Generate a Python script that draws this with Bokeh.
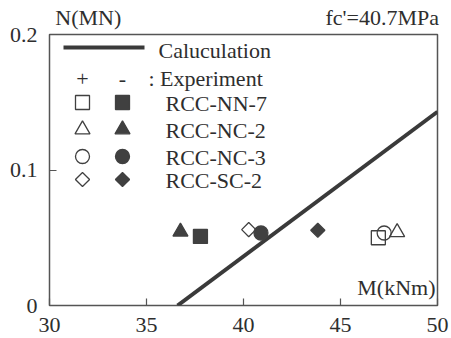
import math
from bokeh.plotting import figure
from bokeh.models import FixedTicker, Label, Range1d, LinearAxis
from bokeh.core.properties import value
from bokeh.embed import file_html
from bokeh.resources import INLINE

# ---- data ----
x_ticks = [30, 35, 40, 45, 50]
y_ticks = [0, 0.1, 0.2]
y_tick_labels = ["0", "0.1", "0.2"]

calc_M = [36.6, 50.0]
calc_N = [0.0, 0.143]

specimens = ["RCC-NN-7", "RCC-NC-2", "RCC-NC-3", "RCC-SC-2"]
markers = ["square", "triangle", "circle", "diamond"]
pos_M = [46.95, 47.92, 47.25, 40.27]   # "+" (open markers)
pos_N = [0.050, 0.054, 0.0535, 0.056]
neg_M = [37.78, 36.75, 40.9, 43.83]    # "-" (filled markers)
neg_N = [0.051, 0.0545, 0.0535, 0.0555]

# ---- style / layout ----
W, H = 451, 338
L, R, T, B = 49, 14, 34, 33
FONT = "Liberation Serif"
TXT = "#2e2e2e"
INK = "#404040"
FS = "22px"
sizes = {"square": 14, "triangle": 15, "circle": 14, "diamond": 10}

p = figure(width=W, height=H, output_backend="svg", toolbar_location=None,
           x_range=Range1d(30, 50), y_range=Range1d(0, 0.2),
           min_border_left=L, min_border_right=R, min_border_top=T, min_border_bottom=B)
p.background_fill_color = "white"
p.border_fill_color = "white"
p.grid.visible = False
p.outline_line_color = "#555555"
p.outline_line_width = 1.5

for ax in (p.xaxis[0], p.yaxis[0]):
    ax.axis_line_color = None
    ax.major_tick_in = 7
    ax.major_tick_out = 0
    ax.minor_tick_in = 0
    ax.minor_tick_out = 0
    ax.major_tick_line_color = "#555555"
    ax.major_tick_line_width = 1.2
    ax.major_label_text_font = FONT
    ax.major_label_text_font_size = FS
    ax.major_label_text_color = TXT
p.xaxis.ticker = FixedTicker(ticks=x_ticks)
p.yaxis.ticker = FixedTicker(ticks=y_ticks)
p.yaxis.major_label_overrides = {t: l for t, l in zip(y_ticks, y_tick_labels)}
p.xaxis.major_label_standoff = 12
p.yaxis.major_label_standoff = 12

# top texts via an extra axis above the frame
top_pos = [32.0, 47.15]
top_txt = ["N(MN)", "fc'=40.7MPa"]
top = LinearAxis(ticker=FixedTicker(ticks=top_pos),
                 major_label_overrides={t: s for t, s in zip(top_pos, top_txt)},
                 axis_line_color=None, major_tick_line_color=None,
                 minor_tick_line_color=None, major_tick_in=0, major_tick_out=0,
                 major_label_standoff=5, major_label_text_font=FONT,
                 major_label_text_font_size=FS, major_label_text_color=TXT)
p.add_layout(top, "above")

# pixel -> data helpers for the in-plot legend layout
fw = W - L - R
fh = H - T - B
def dx(px):
    return 30 + (px - L) / fw * 20
def dy(py):
    return (H - B - py) / fh * 0.2

def mk(x, y, m, filled):
    s = sizes[m]
    shape = "square" if m == "diamond" else m
    ang = math.pi / 4 if m == "diamond" else 0
    p.scatter(x, y, marker=shape, size=s, angle=ang,
              fill_color=INK if filled else "white", fill_alpha=1 if filled else 0,
              line_color=INK, line_width=1.3)

# calculation line
p.line(calc_M, calc_N, line_width=4, line_color="#3a3a3a")

# experiment markers
for m, xo, yo, xf, yf in zip(markers, pos_M, pos_N, neg_M, neg_N):
    mk([xo], [yo], m, False)
    mk([xf], [yf], m, True)

# legend (drawn inside the frame)
p.line([dx(63), dx(144)], [dy(47), dy(47)], line_width=4, line_color="#3a3a3a")
p.text([dx(158)], [dy(50)], text=["Caluculation"], text_font=value(FONT),
       text_font_size=FS, text_color=TXT, text_baseline="middle")
p.text([dx(82), dx(122)], [dy(78), dy(78)], text=["+", "-"], text_font=value(FONT),
       text_font_size=FS, text_color=TXT, text_baseline="middle", text_align="center")
p.text([dx(148)], [dy(78)], text=[": Experiment"], text_font=value(FONT),
       text_font_size=FS, text_color=TXT, text_baseline="middle")
rows = [102, 129, 156, 179]
for m, name, ry in zip(markers, specimens, rows):
    mk([dx(82)], [dy(ry)], m, False)
    mk([dx(122)], [dy(ry)], m, True)
    p.text([dx(165)], [dy(ry + 1)], text=[name], text_font=value(FONT),
           text_font_size=FS, text_color=TXT, text_baseline="middle")

p.add_layout(Label(x=50, y=0, x_offset=-2, y_offset=6, text="M(kNm)", text_font=FONT,
                   text_font_size=FS, text_color=TXT, text_baseline="bottom", text_align="right"))

open("out.html", "w").write(file_html(p, INLINE))
